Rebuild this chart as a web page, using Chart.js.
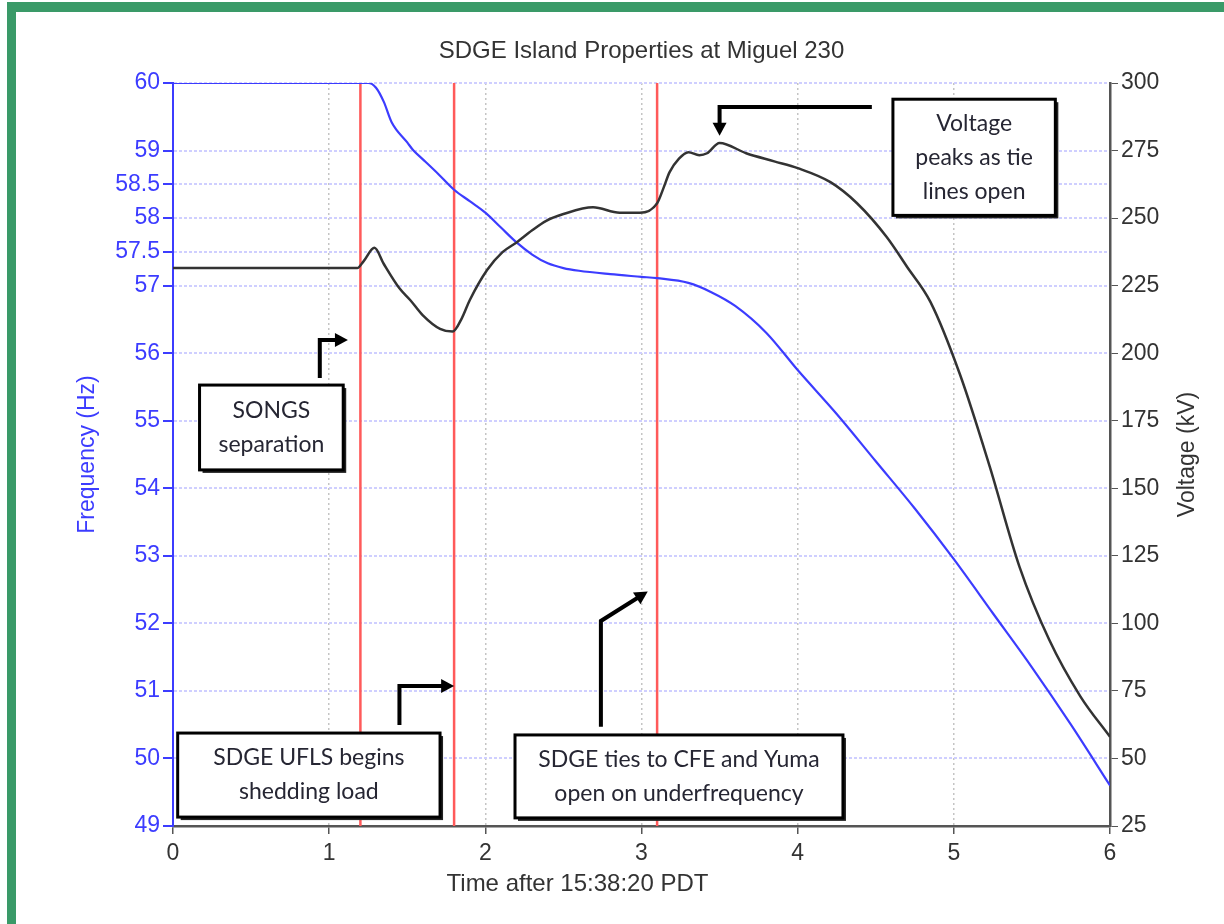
<!DOCTYPE html>
<html>
<head>
<meta charset="utf-8">
<script src="https://cdn.jsdelivr.net/npm/chart.js@4.4.1/dist/chart.umd.min.js"></script>
<style>
  body { margin: 0; background: #fff; }
  #frame { position: absolute; left: 7px; top: 2px; width: 1230px; height: 940px;
           border-top: 10px solid #3a9a68; border-left: 9px solid #3a9a68; }
  #chart { position: absolute; left: 0; top: 0; }
</style>
</head>
<body>
<div id="frame"></div>
<canvas id="chart" width="1224" height="924"></canvas>
<script>
//Frequency trace (Hz) vs time (s)
const freqTime = [0, 1.25, 1.3, 1.35, 1.4, 1.5, 1.54, 1.6, 1.7, 1.8, 1.9, 2.0, 2.1, 2.2, 2.3, 2.4, 2.5, 2.6, 2.8, 3.0, 3.1, 3.3, 3.45, 3.6, 3.8, 4.0, 4.25, 4.5, 4.75, 5.0, 5.25, 5.5, 5.75, 6.0];
const freqHz   = [60, 60, 59.93, 59.72, 59.42, 59.12, 59.0, 58.87, 58.65, 58.42, 58.25, 58.08, 57.86, 57.64, 57.46, 57.33, 57.26, 57.22, 57.17, 57.13, 57.11, 57.04, 56.9, 56.7, 56.3, 55.75, 55.1, 54.4, 53.7, 52.95, 52.15, 51.35, 50.5, 49.6];

//Voltage trace (kV) vs time (s)
const voltTime = [0, 1.18, 1.22, 1.29, 1.35, 1.45, 1.52, 1.6, 1.71, 1.79, 1.85, 1.9, 2.01, 2.11, 2.2, 2.3, 2.39, 2.5, 2.69, 2.86, 2.99, 3.1, 3.14, 3.18, 3.24, 3.3, 3.37, 3.42, 3.5, 3.67, 3.85, 4.0, 4.21, 4.38, 4.57, 4.7, 4.85, 5.04, 5.23, 5.42, 5.61, 5.81, 6.0];
const voltKV   = [231.5, 231.5, 234, 239, 233, 224, 219.6, 214, 209, 208, 213, 219.6, 230.7, 237.4, 241, 245.5, 249, 251.5, 254, 252, 252, 255.5, 261, 267, 272, 274.4, 273.3, 274, 277.8, 274, 271, 268.5, 263.3, 255.5, 243, 232, 219, 192, 158, 121, 94, 73, 58];

//Event times (red markers)
const eventTimes = [1.2, 1.8, 3.1];

//Tick labels
const freqTicks = [49, 50, 51, 52, 53, 54, 55, 56, 57, 57.5, 58, 58.5, 59, 60];
const voltTicks = [25, 50, 75, 100, 125, 150, 175, 200, 225, 250, 275, 300];
const timeTicks = [0, 1, 2, 3, 4, 5, 6];

const BLUE = '#3c3cff';
const AXISFONT = 'Liberation Sans, Arial, sans-serif';
const NOTEFONT = 'Lato, Noto Sans, sans-serif';

//Annotation boxes, placed in (time, kV) units
const notes = [
  {lines: ['Voltage', 'peaks as tie', 'lines open'], x0: 4.61, x1: 5.65, v0: 294, v1: 251,
   arrow: [[4.475, 291.1], [3.5, 291.1], [3.5, 280.5]]},
  {lines: ['SONGS', 'separation'], x0: 0.17, x1: 1.09, v0: 188.2, v1: 156.8,
   arrow: [[0.94, 190.8], [0.94, 204.9], [1.12, 204.9]]},
  {lines: ['SDGE UFLS begins', 'shedding load'], x0: 0.03, x1: 1.71, v0: 59.4, v1: 28.3,
   arrow: [[1.45, 62.4], [1.45, 76.8], [1.8, 76.8]]},
  {lines: ['SDGE ties to CFE and Yuma', 'open on underfrequency'], x0: 2.19, x1: 4.29, v0: 58.7, v1: 28,
   arrow: [[2.74, 61.7], [2.74, 100.9], [3.04, 111.8]]}
];

const toXY = (xs, ys) => xs.map((x, i) => ({x: x, y: ys[i]}));

const eventSets = eventTimes.map(t => ({
  data: [{x: t, y: 49}, {x: t, y: 60}],
  yAxisID: 'y', borderColor: '#ff5a5a', borderWidth: 2.5, pointRadius: 0, order: 3
}));

//draws titles, notes and arrows
const decorations = {
  id: 'decorations',
  afterDraw(chart) {
    const {ctx, chartArea: {top, bottom, left, right}, scales: {x, y1}} = chart;
    const mid = (top + bottom) / 2;
    ctx.save();
    ctx.textAlign = 'center';
    ctx.textBaseline = 'middle';

    ctx.fillStyle = '#333';
    ctx.font = '24px ' + AXISFONT;
    ctx.fillText('SDGE Island Properties at Miguel 230', (left + right) / 2, 51);

    ctx.fillText('Time after 15:38:20 PDT', x.getPixelForValue(2.59), bottom + 58);

    ctx.save();
    ctx.translate(88, mid);
    ctx.rotate(-Math.PI / 2);
    ctx.fillStyle = BLUE;
    ctx.font = '23px ' + AXISFONT;
    ctx.fillText('Frequency (Hz)', 0, 0);
    ctx.restore();

    ctx.save();
    ctx.translate(1188, mid);
    ctx.rotate(-Math.PI / 2);
    ctx.fillStyle = '#333';
    ctx.font = '23px ' + AXISFONT;
    ctx.fillText('Voltage (kV)', 0, 0);
    ctx.restore();

    notes.forEach(n => {
      const bx = x.getPixelForValue(n.x0), bx2 = x.getPixelForValue(n.x1);
      const by = y1.getPixelForValue(n.v0), by2 = y1.getPixelForValue(n.v1);
      ctx.fillStyle = '#222';
      ctx.fillRect(bx + 3, by + 3, bx2 - bx, by2 - by);
      ctx.fillStyle = '#fff';
      ctx.fillRect(bx, by, bx2 - bx, by2 - by);
      ctx.lineWidth = 3;
      ctx.strokeStyle = '#000';
      ctx.strokeRect(bx, by, bx2 - bx, by2 - by);

      ctx.fillStyle = '#262633';
      ctx.font = '23px ' + NOTEFONT;
      const step = 34;
      const cy = (by + by2) / 2 - step * (n.lines.length - 1) / 2;
      n.lines.forEach((s, i) => ctx.fillText(s, (bx + bx2) / 2, cy + i * step));

      const pts = n.arrow.map(p => [x.getPixelForValue(p[0]), y1.getPixelForValue(p[1])]);
      const last = pts[pts.length - 1], prev = pts[pts.length - 2];
      const ang = Math.atan2(last[1] - prev[1], last[0] - prev[0]);
      const head = 13;
      ctx.strokeStyle = '#000';
      ctx.lineWidth = 4;
      ctx.lineJoin = 'miter';
      ctx.beginPath();
      ctx.moveTo(pts[0][0], pts[0][1]);
      for (let i = 1; i < pts.length - 1; i++) ctx.lineTo(pts[i][0], pts[i][1]);
      ctx.lineTo(last[0] - Math.cos(ang) * head * 0.8, last[1] - Math.sin(ang) * head * 0.8);
      ctx.stroke();
      ctx.fillStyle = '#000';
      ctx.beginPath();
      ctx.moveTo(last[0], last[1]);
      ctx.lineTo(last[0] - head * Math.cos(ang) + 7 * Math.sin(ang), last[1] - head * Math.sin(ang) - 7 * Math.cos(ang));
      ctx.lineTo(last[0] - head * Math.cos(ang) - 7 * Math.sin(ang), last[1] - head * Math.sin(ang) + 7 * Math.cos(ang));
      ctx.closePath();
      ctx.fill();
    });
    ctx.restore();
  }
};

const config = {
  type: 'line',
  data: {
    datasets: [
      {label: 'Frequency', data: toXY(freqTime, freqHz), yAxisID: 'y', borderColor: BLUE, borderWidth: 2.2,
       pointRadius: 0, cubicInterpolationMode: 'monotone', order: 2},
      {label: 'Voltage', data: toXY(voltTime, voltKV), yAxisID: 'y1', borderColor: '#333', borderWidth: 2.5,
       pointRadius: 0, cubicInterpolationMode: 'monotone', order: 1},
      ...eventSets
    ]
  },
  options: {
    responsive: false,
    animation: false,
    layout: {padding: {top: 83, left: 0, right: 0, bottom: 0}},
    plugins: {legend: {display: false}, tooltip: {enabled: false}, title: {display: false}},
    scales: {
      x: {
        type: 'linear', min: 0, max: 6,
        afterBuildTicks: s => { s.ticks = timeTicks.map(v => ({value: v})); },
        afterFit: s => { s.height = 98; },
        ticks: {color: '#333', font: {size: 23, family: AXISFONT}, padding: 6},
        grid: {color: c => (c.tick && (c.tick.value === 0 || c.tick.value === 6)) ? 'rgba(0,0,0,0)' : '#c4c4c4',
               lineWidth: 1.5, tickColor: '#555', tickLength: 8, tickBorderDash: []},
        border: {color: '#555', width: 2.5, dash: [2, 3]}
      },
      y: {
        position: 'left', min: 49, max: 60,
        afterBuildTicks: s => { s.ticks = freqTicks.map(v => ({value: v})); },
        afterFit: s => { s.width = 173; },
        ticks: {color: BLUE, font: {size: 23, family: AXISFONT}, padding: 3},
        grid: {color: '#cfcfff', lineWidth: 2, tickColor: BLUE, tickLength: 10, tickBorderDash: []},
        border: {color: BLUE, width: 2, dash: [3, 2]}
      },
      y1: {
        position: 'right', min: 25, max: 300,
        afterBuildTicks: s => { s.ticks = voltTicks.map(v => ({value: v})); },
        afterFit: s => { s.width = 114; },
        ticks: {color: '#333', font: {size: 23, family: AXISFONT}, padding: 3},
        grid: {drawOnChartArea: false, tickColor: '#555', tickLength: 8},
        border: {color: '#555', width: 2.5}
      }
    }
  },
  plugins: [decorations]
};

const chart = new Chart(document.getElementById('chart'), config);
</script>
</body>
</html>
